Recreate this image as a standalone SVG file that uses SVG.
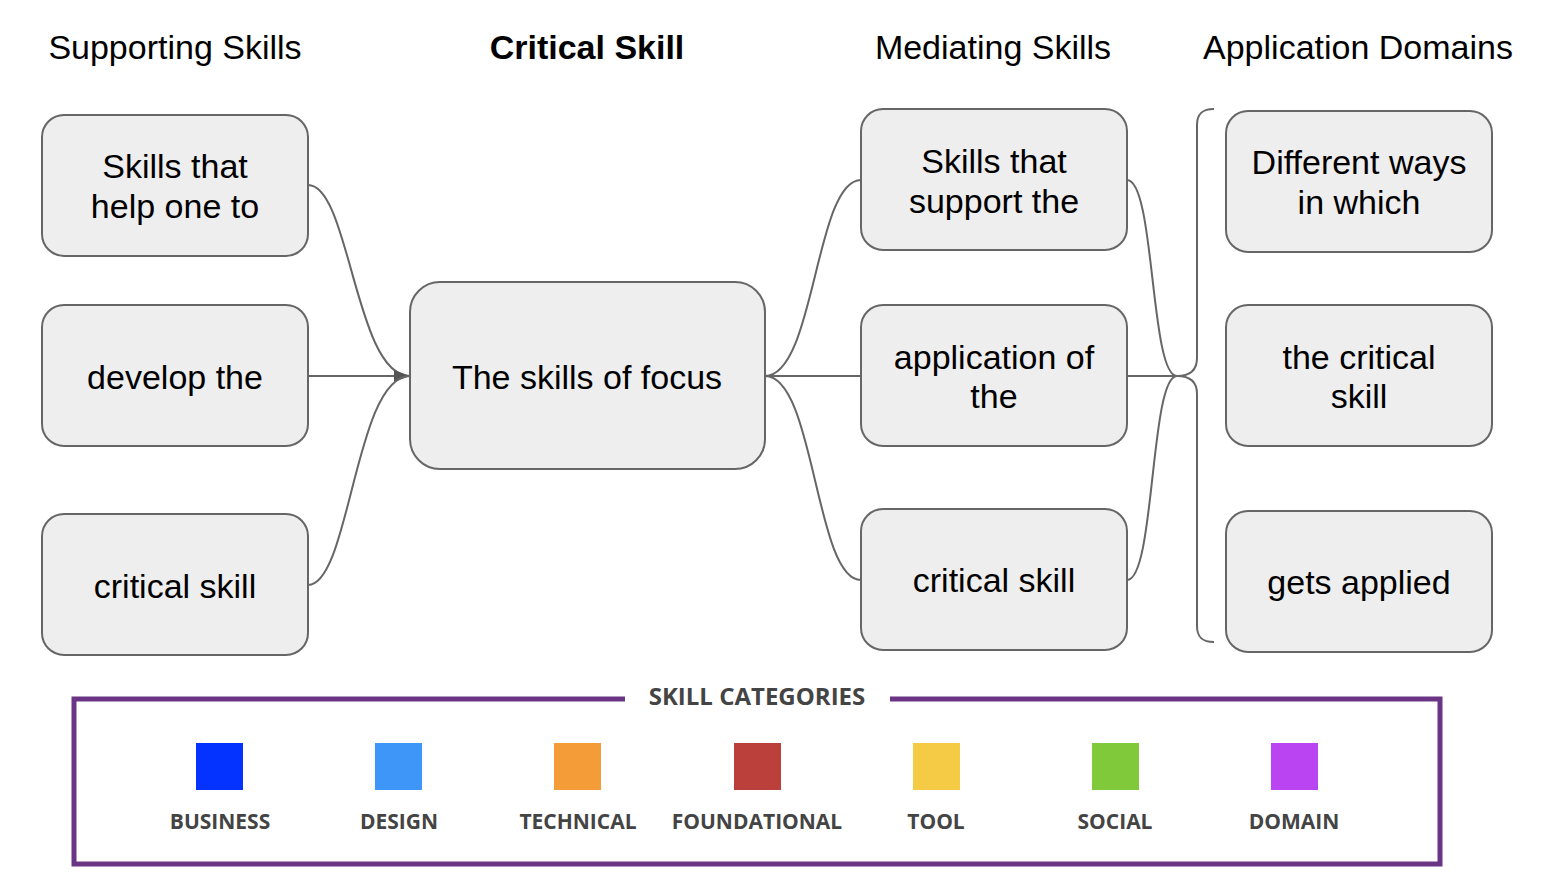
<svg xmlns="http://www.w3.org/2000/svg" width="1556" height="880" viewBox="0 0 1556 880">
<style>
.hdr{font-family:"Liberation Sans",Arial,sans-serif;font-size:34px;fill:#000;text-anchor:middle}
.node rect{fill:#eeeeee;stroke:#666666;stroke-width:2}
.node text{font-family:"Liberation Sans",Arial,sans-serif;font-size:34px;fill:#000;text-anchor:middle}
.con{fill:none;stroke:#666666;stroke-width:2}
.lg{font-family:"Open Sans",sans-serif;font-weight:bold;fill:#444444;text-anchor:middle}
</style>
<defs>
<marker id="arr" viewBox="0 0 16 12" refX="16" refY="6" markerWidth="16" markerHeight="12" orient="auto" markerUnits="userSpaceOnUse">
<path d="M0,0 L16,6 L0,12 z" fill="#555555"/>
</marker>
</defs>
<rect width="1556" height="880" fill="#ffffff"/>
<g id="headers">
<text class="hdr" x="175" y="59">Supporting Skills</text>
<text class="hdr" x="587" y="59" font-weight="bold">Critical Skill</text>
<text class="hdr" x="993" y="59">Mediating Skills</text>
<text class="hdr" x="1358" y="59">Application Domains</text>
</g>
<g id="connectors">
<path class="con" d="M308,185 C350,185 355,376 410,376"/>
<path class="con" d="M308,376 L410,376" marker-end="url(#arr)"/>
<path class="con" d="M308,585 C350,585 355,376 410,376"/>
<path class="con" d="M765,376 C815,376 815,180 861,180"/>
<path class="con" d="M765,376 L861,376"/>
<path class="con" d="M765,376 C815,376 815,580 861,580"/>
<path class="con" d="M1127,180 C1155,180 1150,376 1177,376"/>
<path class="con" d="M1127,376 L1177,376"/>
<path class="con" d="M1127,580 C1155,580 1150,376 1177,376"/>
<path class="con" d="M1214,109 C1203,109 1197,113 1197,125 L1197,358 C1197,370 1190,376 1177,376 C1190,376 1197,382 1197,394 L1197,626 C1197,638 1203,642 1214,642"/>
</g>
<g id="s1" class="node"><rect x="42" y="115" width="266" height="141" rx="22"/><text x="175" y="178">Skills that</text><text x="175" y="218">help one to</text></g>
<g id="s2" class="node"><rect x="42" y="305" width="266" height="141" rx="22"/><text x="175" y="389">develop the</text></g>
<g id="s3" class="node"><rect x="42" y="514" width="266" height="141" rx="22"/><text x="175" y="598">critical skill</text></g>
<g id="c1" class="node"><rect x="410" y="282" width="355" height="187" rx="30"/><text x="587" y="389">The skills of focus</text></g>
<g id="m1" class="node"><rect x="861" y="109" width="266" height="141" rx="22"/><text x="994" y="173">Skills that</text><text x="994" y="213">support the</text></g>
<g id="m2" class="node"><rect x="861" y="305" width="266" height="141" rx="22"/><text x="994" y="369">application of</text><text x="994" y="408">the</text></g>
<g id="m3" class="node"><rect x="861" y="509" width="266" height="141" rx="22"/><text x="994" y="592">critical skill</text></g>
<g id="d1" class="node"><rect x="1226" y="111" width="266" height="141" rx="22"/><text x="1359" y="174">Different ways</text><text x="1359" y="214">in which</text></g>
<g id="d2" class="node"><rect x="1226" y="305" width="266" height="141" rx="22"/><text x="1359" y="369">the critical</text><text x="1359" y="408">skill</text></g>
<g id="d3" class="node"><rect x="1226" y="511" width="266" height="141" rx="22"/><text x="1359" y="594">gets applied</text></g>
<g id="legend">
<rect x="74" y="699" width="1366" height="165" fill="none" stroke="#6b3585" stroke-width="5"/>
<rect x="625" y="690" width="265" height="18" fill="#ffffff"/>
<text class="lg" x="757" y="705" font-size="24">SKILL CATEGORIES</text>
<rect x="196" y="743" width="47" height="47" fill="#0433ff"/>
<rect x="375" y="743" width="47" height="47" fill="#3e97f8"/>
<rect x="554" y="743" width="47" height="47" fill="#f39c38"/>
<rect x="734" y="743" width="47" height="47" fill="#bb3f3a"/>
<rect x="913" y="743" width="47" height="47" fill="#f5cb45"/>
<rect x="1092" y="743" width="47" height="47" fill="#80c93a"/>
<rect x="1271" y="743" width="47" height="47" fill="#bb44f2"/>
<text class="lg" x="220" y="829" font-size="21">BUSINESS</text>
<text class="lg" x="399" y="829" font-size="21">DESIGN</text>
<text class="lg" x="578" y="829" font-size="21">TECHNICAL</text>
<text class="lg" x="757" y="829" font-size="21">FOUNDATIONAL</text>
<text class="lg" x="936" y="829" font-size="21">TOOL</text>
<text class="lg" x="1115" y="829" font-size="21">SOCIAL</text>
<text class="lg" x="1294" y="829" font-size="21">DOMAIN</text>
</g>
</svg>
